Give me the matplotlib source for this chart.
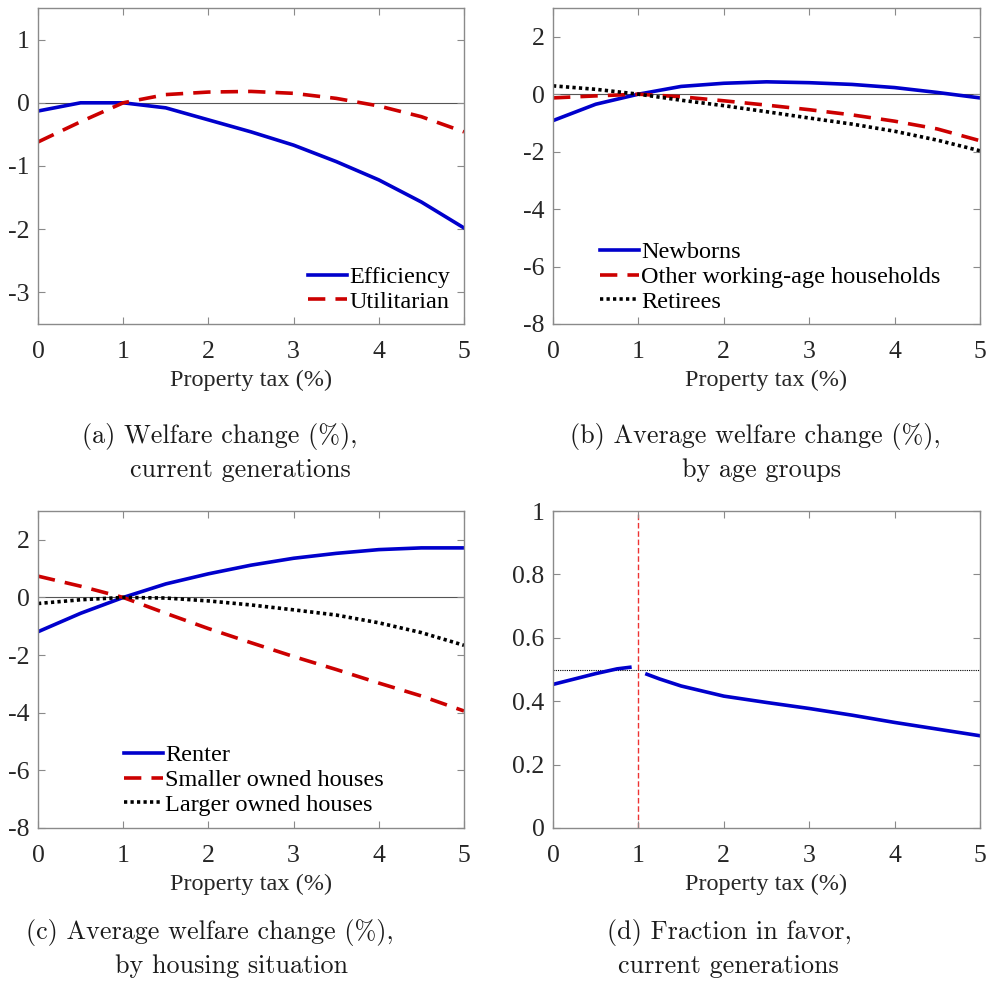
import numpy as np
import matplotlib
matplotlib.use("Agg")
import matplotlib.pyplot as plt

plt.rcParams['axes.unicode_minus'] = False
plt.rcParams['font.family'] = ['Liberation Serif', 'DejaVu Serif']

# ---------------- data ----------------
tax = [0, 0.5, 1.0, 1.5, 2.0, 2.5, 3.0, 3.5, 4.0, 4.5, 5.0]

efficiency = [-0.13, 0.0, 0.0, -0.08, -0.27, -0.46, -0.67, -0.93, -1.22, -1.57, -1.98]
utilitarian = [-0.62, -0.30, 0.0, 0.13, 0.17, 0.18, 0.15, 0.07, -0.05, -0.22, -0.46]

newborns = [-0.92, -0.35, 0.0, 0.27, 0.38, 0.43, 0.40, 0.34, 0.23, 0.06, -0.13]
other_working = [-0.13, -0.06, 0.0, -0.09, -0.23, -0.38, -0.54, -0.72, -0.94, -1.21, -1.62]
retirees = [0.29, 0.17, 0.0, -0.21, -0.40, -0.61, -0.83, -1.04, -1.29, -1.60, -1.97]

renter = [-1.19, -0.55, 0.0, 0.47, 0.82, 1.12, 1.36, 1.53, 1.66, 1.72, 1.72]
smaller_owned = [0.74, 0.39, 0.0, -0.55, -1.08, -1.57, -2.05, -2.50, -2.97, -3.42, -3.94]
larger_owned = [-0.21, -0.08, 0.0, -0.02, -0.12, -0.26, -0.43, -0.61, -0.88, -1.22, -1.66]

tax_favor = [0, 0.25, 0.5, 0.75, 0.9, 1.0, 1.1, 1.25, 1.5, 2.0, 2.5, 3.0, 3.5, 4.0, 4.5, 5.0]
frac_favor = [0.453, 0.470, 0.487, 0.502, 0.507, np.nan, 0.485, 0.470, 0.448, 0.416, 0.396,
              0.377, 0.356, 0.333, 0.312, 0.291]

xticks = [0, 1, 2, 3, 4, 5]
yticks_a = [-3, -2, -1, 0, 1]
yticks_bc = [-8, -6, -4, -2, 0, 2]
yticks_d = [0, 0.2, 0.4, 0.6, 0.8, 1]
ytick_labels_d = ['0', '0.2', '0.4', '0.6', '0.8', '1']

captions = [
    ("(a) Welfare change (%),", "current generations"),
    ("(b) Average welfare change (%),", "by age groups"),
    ("(c) Average welfare change (%),", "by housing situation"),
    ("(d) Fraction in favor,", "current generations"),
]

# ---------------- style ----------------
W, H = 988, 991
fig = plt.figure(figsize=(W / 100, H / 100), dpi=100)

BLUE = '#0000CC'
RED = '#CC0000'
SPINE = '#8a8a8a'
TXT = '#262626'
FS = 18.5
LFS = 17.5
LW = 2.6


def make_ax(l, t, r, b):
    ax = fig.add_axes([l / W, 1 - b / H, (r - l) / W, (b - t) / H])
    for s in ax.spines.values():
        s.set_color(SPINE)
        s.set_linewidth(1.0)
    ax.tick_params(direction='in', top=True, right=True, length=5, width=0.8,
                   color=SPINE, labelsize=FS, labelcolor=TXT)
    ax.tick_params(axis='x', pad=12.5)
    ax.tick_params(axis='y', pad=6)
    ax.set_xlim(0, 5)
    ax.set_xticks(xticks)
    ax.set_xlabel('Property tax (%)', fontsize=LFS, color=TXT, labelpad=5)
    return ax


ax_a = make_ax(38, 8, 464, 324)
ax_b = make_ax(553, 8, 980, 324)
ax_c = make_ax(38, 511, 464, 828)
ax_d = make_ax(553, 511, 980, 828)

dash = (0, (4.8, 2.8))
dot = (0, (0.9, 0.9))

leg_kw = dict(frameon=False, fontsize=LFS, handlelength=1.6, handletextpad=0.1,
              labelspacing=0.12, borderpad=0.0, borderaxespad=0.0)

# (a)
ax_a.axhline(0, color='#555555', lw=0.8, zorder=1)
ax_a.plot(tax, efficiency, color=BLUE, lw=LW, label='Efficiency')
ax_a.plot(tax, utilitarian, color=RED, lw=LW, ls=dash, label='Utilitarian')
ax_a.set_ylim(-3.5, 1.5)
ax_a.set_yticks(yticks_a)
ax_a.legend(loc='lower right', bbox_to_anchor=(0.967, 0.035), **leg_kw)

# (b)
ax_b.axhline(0, color='#555555', lw=0.8, zorder=1)
ax_b.plot(tax, newborns, color=BLUE, lw=LW, label='Newborns')
ax_b.plot(tax, other_working, color=RED, lw=LW, ls=dash, label='Other working-age households')
ax_b.plot(tax, retirees, color='black', lw=LW, ls=dot, label='Retirees')
ax_b.set_ylim(-8, 3)
ax_b.set_yticks(yticks_bc)
ax_b.legend(loc='lower left', bbox_to_anchor=(0.11, 0.035), **leg_kw)

# (c)
ax_c.axhline(0, color='#555555', lw=0.8, zorder=1)
ax_c.plot(tax, renter, color=BLUE, lw=LW, label='Renter')
ax_c.plot(tax, smaller_owned, color=RED, lw=LW, ls=dash, label='Smaller owned houses')
ax_c.plot(tax, larger_owned, color='black', lw=LW, ls=dot, label='Larger owned houses')
ax_c.set_ylim(-8, 3)
ax_c.set_yticks(yticks_bc)
ax_c.legend(loc='lower left', bbox_to_anchor=(0.202, 0.038), **leg_kw)

# (d)
ax_d.axhline(0.5, color='black', lw=0.8, ls=(0, (1, 1)), zorder=1)
ax_d.axvline(1.0, color='#ee3333', lw=1.0, ls=(0, (4, 2)), zorder=1)
ax_d.plot(tax_favor, frac_favor, color=BLUE, lw=LW)
ax_d.set_ylim(0, 1)
ax_d.set_yticks(yticks_d)
ax_d.set_yticklabels(ytick_labels_d)

# captions
CAP_FS = 18.8
cap_pos = [((220, 437), (240, 470)), ((755, 437), (761, 470)),
           ((210, 932), (231, 966)), ((729, 932), (728, 966))]
for (l1, l2), ((x1, y1), (x2, y2)) in zip(captions, cap_pos):
    fig.text(x1 / W, 1 - y1 / H, l1, ha='center', va='center', fontsize=CAP_FS,
             family=['cmr10', 'DejaVu Serif'], color='#1a1a1a')
    fig.text(x2 / W, 1 - y2 / H, l2, ha='center', va='center', fontsize=CAP_FS,
             family=['cmr10', 'DejaVu Serif'], color='#1a1a1a')

fig.savefig('out.png', dpi=100)
